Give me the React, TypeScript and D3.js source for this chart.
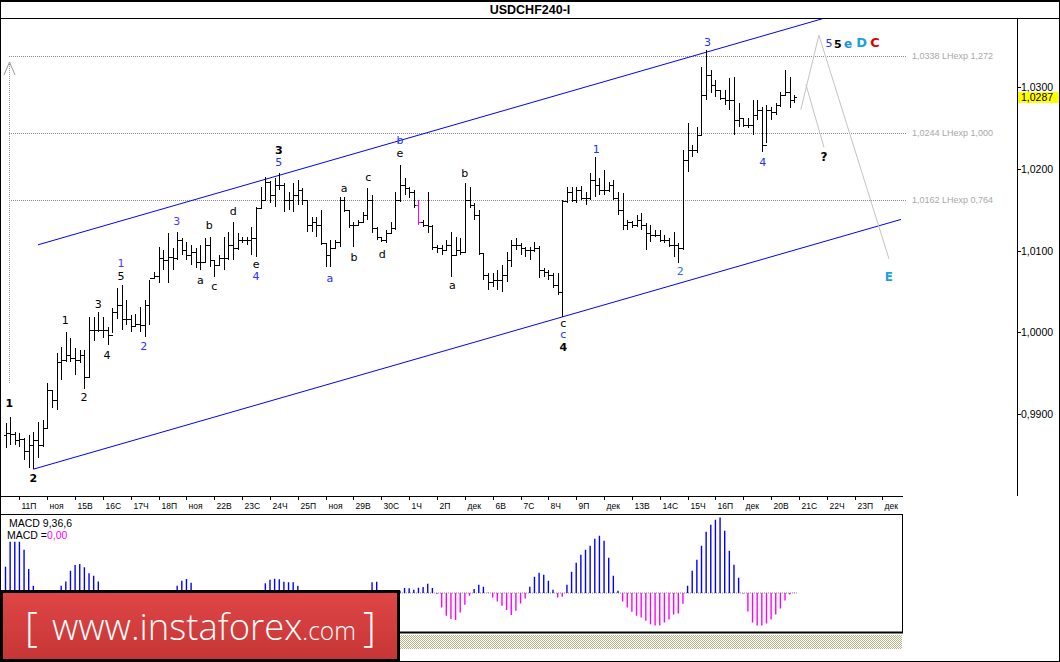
import React, { useEffect } from 'react';
import * as d3 from 'd3';

// ---------- DATA ----------
const high = [
  0.9889, 0.9897, 0.9879, 0.9877, 0.9871, 0.9875, 0.9879, 0.9891, 0.9893, 0.9938,
  0.9930, 0.9975, 0.9982, 1.0001, 0.9993, 0.9981, 0.9979, 0.9979, 1.0019, 1.0019,
  1.0025, 1.0019, 1.0007, 1.0030, 1.0054, 1.0058, 1.0040, 1.0021, 1.0023, 1.0031,
  1.0040, 1.0064, 1.0074, 1.0104, 1.0101, 1.0121, 1.0103, 1.0123, 1.0115, 1.0110,
  1.0107, 1.0103, 1.0107, 1.0115, 1.0117, 1.0088, 1.0095, 1.0117, 1.0123, 1.0135,
  1.0121, 1.0117, 1.0117, 1.0129, 1.0153, 1.0178, 1.0190, 1.0185, 1.0189, 1.0195,
  1.0182, 1.0171, 1.0182, 1.0186, 1.0176, 1.0162, 1.0141, 1.0141, 1.0150, 1.0109,
  1.0113, 1.0113, 1.0165, 1.0165, 1.0150, 1.0135, 1.0137, 1.0147, 1.0176, 1.0168,
  1.0129, 1.0117, 1.0125, 1.0135, 1.0171, 1.0204, 1.0189, 1.0178, 1.0174, 1.0162,
  1.0137, 1.0171, 1.0131, 1.0107, 1.0107, 1.0113, 1.0123, 1.0117, 1.0115, 1.0182,
  1.0178, 1.0158, 1.0150, 1.0097, 1.0073, 1.0073, 1.0076, 1.0082, 1.0098, 1.0113,
  1.0115, 1.0109, 1.0104, 1.0104, 1.0110, 1.0105, 1.0079, 1.0076, 1.0073, 1.0073,
  1.0162, 1.0178, 1.0178, 1.0178, 1.0179, 1.0171, 1.0195, 1.0214, 1.0189, 1.0198,
  1.0184, 1.0186, 1.0171, 1.0170, 1.0137, 1.0136, 1.0143, 1.0146, 1.0134, 1.0131,
  1.0125, 1.0125, 1.0119, 1.0115, 1.0123, 1.0109, 1.0223, 1.0256, 1.0229, 1.0251,
  1.0324, 1.0345, 1.0321, 1.0308, 1.0296, 1.0296, 1.0311, 1.0312, 1.0280, 1.0262,
  1.0262, 1.0284, 1.0284, 1.0275, 1.0278, 1.0275, 1.0280, 1.0294, 1.0321, 1.0312,
  1.0290,
];
const low = [
  0.9859, 0.9863, 0.9863, 0.9860, 0.9844, 0.9834, 0.9833, 0.9847, 0.9860, 0.9883,
  0.9908, 0.9905, 0.9942, 0.9964, 0.9964, 0.9948, 0.9963, 0.9931, 0.9944, 0.9989,
  1.0001, 0.9993, 0.9985, 0.9999, 1.0017, 1.0003, 1.0009, 1.0001, 1.0007, 1.0001,
  0.9994, 1.0009, 1.0066, 1.0060, 1.0076, 1.0060, 1.0076, 1.0088, 1.0095, 1.0088,
  1.0082, 1.0079, 1.0076, 1.0085, 1.0080, 1.0068, 1.0082, 1.0076, 1.0088, 1.0088,
  1.0101, 1.0109, 1.0107, 1.0095, 1.0092, 1.0152, 1.0162, 1.0158, 1.0153, 1.0174,
  1.0147, 1.0150, 1.0147, 1.0156, 1.0156, 1.0123, 1.0123, 1.0117, 1.0107, 1.0080,
  1.0080, 1.0103, 1.0104, 1.0147, 1.0128, 1.0104, 1.0131, 1.0135, 1.0137, 1.0121,
  1.0113, 1.0110, 1.0109, 1.0121, 1.0125, 1.0159, 1.0168, 1.0164, 1.0152, 1.0131,
  1.0129, 1.0121, 1.0101, 1.0097, 1.0095, 1.0101, 1.0068, 1.0095, 1.0095, 1.0097,
  1.0152, 1.0137, 1.0095, 1.0064, 1.0052, 1.0055, 1.0052, 1.0049, 1.0062, 1.0080,
  1.0101, 1.0095, 1.0092, 1.0088, 1.0098, 1.0066, 1.0068, 1.0064, 1.0054, 1.0046,
  1.0019, 1.0158, 1.0159, 1.0158, 1.0162, 1.0156, 1.0162, 1.0165, 1.0168, 1.0168,
  1.0171, 1.0162, 1.0143, 1.0125, 1.0125, 1.0128, 1.0129, 1.0125, 1.0101, 1.0110,
  1.0117, 1.0110, 1.0109, 1.0104, 1.0092, 1.0085, 1.0101, 1.0196, 1.0214, 1.0219,
  1.0240, 1.0284, 1.0292, 1.0288, 1.0284, 1.0278, 1.0272, 1.0241, 1.0251, 1.0251,
  1.0250, 1.0241, 1.0260, 1.0220, 1.0231, 1.0260, 1.0265, 1.0275, 1.0290, 1.0274,
  1.0280,
];
const open = [
  0.9875, 0.9877, 0.9876, 0.9869, 0.9870, 0.9855, 0.9863, 0.9869, 0.9863, 0.9883,
  0.9930, 0.9918, 0.9964, 0.9966, 0.9973, 0.9969, 0.9966, 0.9973, 0.9946, 1.0003,
  1.0003, 1.0003, 1.0003, 0.9997, 1.0025, 1.0033, 1.0017, 1.0017, 1.0008, 1.0010,
  1.0009, 1.0034, 1.0066, 1.0069, 1.0091, 1.0088, 1.0092, 1.0091, 1.0113, 1.0101,
  1.0095, 1.0098, 1.0086, 1.0086, 1.0107, 1.0088, 1.0082, 1.0091, 1.0091, 1.0107,
  1.0103, 1.0113, 1.0113, 1.0113, 1.0115, 1.0152, 1.0162, 1.0184, 1.0168, 1.0180,
  1.0180, 1.0162, 1.0162, 1.0168, 1.0174, 1.0162, 1.0131, 1.0135, 1.0131, 1.0109,
  1.0095, 1.0103, 1.0110, 1.0162, 1.0150, 1.0131, 1.0131, 1.0135, 1.0143, 1.0162,
  1.0128, 1.0116, 1.0113, 1.0122, 1.0128, 1.0162, 1.0180, 1.0176, 1.0171, 1.0156,
  1.0135, 1.0131, 1.0130, 1.0104, 1.0103, 1.0101, 1.0107, 1.0095, 1.0101, 1.0098,
  1.0162, 1.0156, 1.0143, 1.0097, 1.0070, 1.0062, 1.0064, 1.0064, 1.0070, 1.0088,
  1.0107, 1.0107, 1.0103, 1.0101, 1.0101, 1.0103, 1.0076, 1.0074, 1.0070, 1.0058,
  1.0049, 1.0160, 1.0171, 1.0162, 1.0174, 1.0164, 1.0164, 1.0186, 1.0180, 1.0174,
  1.0174, 1.0180, 1.0164, 1.0150, 1.0131, 1.0135, 1.0131, 1.0137, 1.0131, 1.0121,
  1.0119, 1.0119, 1.0113, 1.0113, 1.0107, 1.0107, 1.0103, 1.0211, 1.0223, 1.0223,
  1.0241, 1.0290, 1.0314, 1.0302, 1.0296, 1.0286, 1.0284, 1.0284, 1.0260, 1.0262,
  1.0253, 1.0253, 1.0265, 1.0272, 1.0229, 1.0272, 1.0269, 1.0278, 1.0290, 1.0294,
  1.0284,
];
const close = [
  0.9877, 0.9876, 0.9869, 0.9870, 0.9855, 0.9863, 0.9869, 0.9863, 0.9883, 0.9930,
  0.9918, 0.9964, 0.9966, 0.9973, 0.9969, 0.9966, 0.9973, 0.9946, 1.0003, 1.0003,
  1.0003, 1.0003, 0.9997, 1.0025, 1.0033, 1.0017, 1.0017, 1.0008, 1.0010, 1.0009,
  1.0034, 1.0066, 1.0069, 1.0091, 1.0088, 1.0092, 1.0091, 1.0113, 1.0101, 1.0095,
  1.0098, 1.0086, 1.0086, 1.0107, 1.0088, 1.0082, 1.0091, 1.0091, 1.0107, 1.0103,
  1.0113, 1.0113, 1.0113, 1.0115, 1.0152, 1.0162, 1.0184, 1.0168, 1.0180, 1.0180,
  1.0162, 1.0162, 1.0168, 1.0174, 1.0162, 1.0131, 1.0135, 1.0131, 1.0109, 1.0095,
  1.0103, 1.0110, 1.0162, 1.0150, 1.0131, 1.0131, 1.0135, 1.0143, 1.0162, 1.0128,
  1.0116, 1.0113, 1.0122, 1.0128, 1.0162, 1.0180, 1.0176, 1.0171, 1.0156, 1.0135,
  1.0131, 1.0130, 1.0104, 1.0103, 1.0101, 1.0107, 1.0095, 1.0101, 1.0098, 1.0162,
  1.0156, 1.0143, 1.0097, 1.0070, 1.0062, 1.0064, 1.0064, 1.0070, 1.0088, 1.0107,
  1.0107, 1.0103, 1.0101, 1.0101, 1.0103, 1.0076, 1.0074, 1.0070, 1.0058, 1.0049,
  1.0160, 1.0171, 1.0162, 1.0174, 1.0164, 1.0164, 1.0186, 1.0180, 1.0174, 1.0174,
  1.0180, 1.0164, 1.0150, 1.0131, 1.0135, 1.0131, 1.0137, 1.0131, 1.0121, 1.0119,
  1.0119, 1.0113, 1.0113, 1.0107, 1.0107, 1.0103, 1.0211, 1.0223, 1.0223, 1.0241,
  1.0290, 1.0314, 1.0302, 1.0296, 1.0286, 1.0284, 1.0284, 1.0260, 1.0262, 1.0253,
  1.0253, 1.0265, 1.0272, 1.0229, 1.0272, 1.0269, 1.0278, 1.0290, 1.0294, 1.0284,
  1.0287,
];
const highlightedBars = [89];

const macdHist = [
  0.00105, 0.00205, 0.00205, 0.00205, 0.00173, 0.00096, 0.00029, -0.0002, -0.0004, -0.0003,
  -0.0002, 0.00002, 0.00029, 0.00046, 0.00089, 0.00112, 0.00116, 0.00103, 0.00079, 0.00069,
  0.00046, -0.0001, -0.0003, -0.0004, -0.0003, -0.0004, -0.0006, -0.0008, -0.0009, -0.0009,
  -0.0008, -0.0005, -0.0003, -0.0002, -0.0002, -0.0001, 0.00003, 0.00029, 0.00049, 0.00056,
  0.00041, -0.0001, -0.0003, -0.0003, -0.0004, -0.0006, -0.0006, -0.0006, -0.0005, -0.0005,
  -0.0004, -0.0004, -0.0004, -0.0004, -0.0002, -0.00005, 0.00039, 0.00053, 0.00057, 0.00055,
  0.00045, 0.00043, 0.00043, 0.00029, 0.00005, -0.0002, -0.0004, -0.0005, -0.0007, -0.0009,
  -0.001, -0.001, -0.0008, -0.0007, -0.0007, -0.0006, -0.0005, -0.0004, -0.0002, 0.00043,
  0.00045, 0.00012, -0.0001, -0.0002, -0.0001, 0.00009, 0.0002, 0.00019, 0.00013, 0.00021,
  0.00024, 0.00037, 0.0002, -0.00004, -0.00058, -0.00091, -0.00104, -0.00108, -0.00078, -0.00047,
  -0.00011, 0.00016, 0.00033, 0.00025, 0.00001, -0.00018, -0.00034, -0.00051, -0.00068, -0.00088,
  -0.00071, -0.00042, -0.00022, 0.00025, 0.00065, 0.00081, 0.00073, 0.00049, 0.00013, -0.00018,
  -0.00015, 0.00033, 0.00085, 0.00121, 0.00153, 0.00173, 0.00189, 0.00217, 0.00229, 0.00209,
  0.00141, 0.00069, 0.00009, -0.00034, -0.00058, -0.00075, -0.00091, -0.00098, -0.00111, -0.00125,
  -0.0013, -0.0013, -0.00118, -0.00106, -0.00086, -0.00082, -0.00043, 0.00029, 0.00089, 0.00133,
  0.00189, 0.00245, 0.00273, 0.00293, 0.00302, 0.00249, 0.00169, 0.00113, 0.00061, -0.00002,
  -0.00074, -0.00118, -0.0013, -0.0013, -0.00122, -0.00106, -0.00086, -0.00062, -0.0003, -0.00006,
  0.00001,
];

const dayLabels = [
  '11П', 'ноя', '15В', '16С', '17Ч', '18П', 'ноя', '22В', '23С', '24Ч', '25П', 'ноя',
  '29В', '30С', '1Ч', '2П', 'дек', '6В', '7С', '8Ч', '9П', 'дек', '13В', '14С',
  '15Ч', '16П', 'дек', '20В', '21С', '22Ч', '23П', 'дек',
];
const priceTicks = [0.99, 1.0, 1.01, 1.02, 1.03];
const lastPrice = 1.0287;
const fibLevels = [1.0338, 1.0244, 1.0162];
const fibRatios = ['1,272', '1,000', '0,764'];

const channelUpper = [[7, 1.0107], [176, 1.0383]];
const channelLower = [[6, 0.9833], [193, 1.0138]];
const projectionA = [[171.4, 1.0272], [175.3, 1.0363], [190.4, 1.009]];
const projectionB = [[172.5, 1.0303], [176.4, 1.0226]];

type WL = { i: number; v: number; t: string; c: string; b?: boolean; s?: number };
const BLUE = '#2233ff';
const waveLabels: WL[] = [
  { i: 0.8, v: 0.9913, t: '1', c: '#000', b: true },
  { i: 6.0, v: 0.9822, t: '2', c: '#000', b: true },
  { i: 12.9, v: 1.0015, t: '1', c: '#000' },
  { i: 16.9, v: 0.9921, t: '2', c: '#000' },
  { i: 20.0, v: 1.0034, t: '3', c: '#000' },
  { i: 21.9, v: 0.9972, t: '4', c: '#000' },
  { i: 24.9, v: 1.0084, t: '1', c: '#5a33ff' },
  { i: 24.9, v: 1.0068, t: '5', c: '#000' },
  { i: 29.8, v: 0.9983, t: '2', c: BLUE },
  { i: 36.9, v: 1.0135, t: '3', c: '#5a33ff' },
  { i: 42.0, v: 1.0063, t: 'a', c: '#000' },
  { i: 43.9, v: 1.013, t: 'b', c: '#000' },
  { i: 45.0, v: 1.0056, t: 'c', c: '#000' },
  { i: 49.1, v: 1.0148, t: 'd', c: '#000' },
  { i: 54.0, v: 1.0083, t: 'e', c: '#000' },
  { i: 54.0, v: 1.0068, t: '4', c: BLUE },
  { i: 58.9, v: 1.0222, t: '3', c: '#000', b: true },
  { i: 58.9, v: 1.0208, t: '5', c: BLUE },
  { i: 73.0, v: 1.0176, t: 'a', c: '#000' },
  { i: 69.9, v: 1.0066, t: 'a', c: BLUE },
  { i: 75.1, v: 1.0091, t: 'b', c: '#000' },
  { i: 78.2, v: 1.0189, t: 'c', c: '#000' },
  { i: 81.2, v: 1.0095, t: 'd', c: '#000' },
  { i: 85.0, v: 1.0234, t: 'b', c: BLUE },
  { i: 85.0, v: 1.0218, t: 'e', c: '#000' },
  { i: 99.0, v: 1.0194, t: 'b', c: '#000' },
  { i: 96.3, v: 1.0057, t: 'a', c: '#000' },
  { i: 120.2, v: 1.0011, t: 'c', c: '#000' },
  { i: 120.2, v: 0.9997, t: 'c', c: BLUE },
  { i: 120.2, v: 0.9982, t: '4', c: '#000', b: true },
  { i: 127.3, v: 1.0223, t: '1', c: BLUE },
  { i: 145.4, v: 1.0074, t: '2', c: '#2a6cff' },
  { i: 151.3, v: 1.0354, t: '3', c: BLUE },
  { i: 163.2, v: 1.0207, t: '4', c: BLUE },
  { i: 176.4, v: 1.0214, t: '?', c: '#000', b: true, s: 12 },
  { i: 177.5, v: 1.0353, t: '5', c: BLUE },
  { i: 179.4, v: 1.0352, t: '5', c: '#000', b: true },
  { i: 181.6, v: 1.0352, t: 'e', c: '#1a93d6', b: true, s: 12 },
  { i: 184.5, v: 1.0354, t: 'D', c: '#1ba1e2', b: true, s: 13 },
  { i: 187.4, v: 1.0354, t: 'C', c: '#dd0000', b: true, s: 13 },
  { i: 190.4, v: 1.0068, t: 'E', c: '#1ba1e2', b: true, s: 12 },
];

// ---------- COMPONENT ----------
export default function App() {
  useEffect(() => {
    document.body.style.margin = '0';
  }, []);

  const W = 1060;
  const H = 662;
  const plotRight = 1017;
  const axisY = 496;
  const stripRight = 903;

  const x = d3.scaleLinear().domain([0, 170]).range([5.5, 5.5 + 4.64 * 170]);
  const y = d3.scaleLinear().domain([0.98, 1.0384]).range([496.2, 18]);
  const m = d3.scaleLinear().domain([-0.0016, 0.00316]).range([633, 514]);
  const fmt = (v: number) => d3.format('.4f')(v).replace('.', ',');
  const line = d3
    .line<number[]>()
    .x((d) => x(d[0]))
    .y((d) => y(d[1]));

  const font = 'Liberation Sans, Arial, sans-serif';
  const px = (i: number) => Math.round(x(i)) + 0.5;
  const logoFont = 'Open Sans, Liberation Sans, sans-serif';

  return (
    <svg
      width={W}
      height={H}
      style={{ position: 'absolute', left: 0, top: 0, background: '#fff', display: 'block' }}
      fontFamily={font}
    >
      <defs>
        <pattern id="hatch" width="2" height="2" patternUnits="userSpaceOnUse">
          <rect width="2" height="2" fill="#ffffff" />
          <rect width="1" height="1" fill="#b2b286" />
          <rect x="1" y="1" width="1" height="1" fill="#b2b286" />
        </pattern>
        <linearGradient id="logoGrad" x1="0" y1="0" x2="0" y2="1">
          <stop offset="0" stopColor="#e04646" />
          <stop offset="1" stopColor="#c63535" />
        </linearGradient>
      </defs>
      <rect width={W} height={H} fill="#fff" />

      {/* title */}
      <text x={530} y={13.5} textAnchor="middle" fontSize={12.5} fontWeight="bold" fill="#000">
        USDCHF240-I
      </text>
      <line x1={0} x2={W} y1={18.5} y2={18.5} stroke="#000" />

      {/* right price axis */}
      <line x1={plotRight + 0.5} x2={plotRight + 0.5} y1={18} y2={axisY} stroke="#000" />
      {priceTicks.map((v) => (
        <g key={v}>
          <line x1={plotRight} x2={plotRight + 4} y1={Math.round(y(v)) + 0.5} y2={Math.round(y(v)) + 0.5} stroke="#000" />
          <text x={plotRight + 4} y={y(v) + 4} fontSize={10.5} fill="#000">
            {fmt(v)}
          </text>
        </g>
      ))}
      <rect x={plotRight + 1} y={y(lastPrice) - 5.5} width={W - plotRight - 1} height={11} fill="#ffff00" />
      <text x={plotRight + 4} y={y(lastPrice) + 4} fontSize={10.5} fill="#000">
        {fmt(lastPrice)}
      </text>

      {/* fib levels */}
      {fibLevels.map((v, k) => (
        <g key={v}>
          <line
            x1={9}
            x2={907}
            y1={Math.round(y(v)) + 0.5}
            y2={Math.round(y(v)) + 0.5}
            stroke="#8a8a8a"
            strokeDasharray="1 1"
          />
          <text x={912} y={y(v) + 3.5} fontSize={9} fill="#a8a8a8">
            {`${fmt(v)} LHexp ${fibRatios[k]}`}
          </text>
        </g>
      ))}

      {/* vertical arrow */}
      <line x1={9.5} x2={9.5} y1={62} y2={383} stroke="#999" strokeDasharray="1 1" />
      <polyline points="4,75 9.5,62 15,75" fill="none" stroke="#999" />

      {/* channel */}
      <path d={line(channelUpper) || ''} stroke="#0000ff" fill="none" />
      <path d={line(channelLower) || ''} stroke="#0000ff" fill="none" />

      {/* projections */}
      <path d={line(projectionA) || ''} stroke="#c4c4c4" fill="none" />
      <path d={line(projectionB) || ''} stroke="#c4c4c4" fill="none" />

      {/* OHLC bars */}
      <g shapeRendering="crispEdges">
        {high.map((h, i) => {
          const cx = px(i);
          const col = highlightedBars.includes(i) ? '#ff00ff' : '#000';
          return (
            <g key={i} stroke={col}>
              <line x1={cx} x2={cx} y1={y(h)} y2={y(low[i])} />
              <line x1={cx - 2.5} x2={cx} y1={Math.round(y(open[i])) + 0.5} y2={Math.round(y(open[i])) + 0.5} />
              <line x1={cx} x2={cx + 2.5} y1={Math.round(y(close[i])) + 0.5} y2={Math.round(y(close[i])) + 0.5} />
            </g>
          );
        })}
      </g>

      {/* wave labels */}
      {waveLabels.map((l, k) => (
        <text
          key={k}
          x={x(l.i)}
          y={y(l.v)}
          textAnchor="middle"
          dominantBaseline="central"
          fontSize={l.s || 11}
          fontWeight={l.b ? 'bold' : 'normal'}
          fill={l.c}
          fontFamily="DejaVu Sans, Verdana, sans-serif"
        >
          {l.t}
        </text>
      ))}

      {/* time axis strip */}
      <line x1={0} x2={stripRight} y1={axisY + 0.5} y2={axisY + 0.5} stroke="#000" />
      {dayLabels.map((t, k) => {
        const tx = px(3 + 6 * k);
        return (
          <g key={k}>
            <line x1={tx} x2={tx} y1={axisY} y2={axisY + 4} stroke="#000" />
            <text x={tx + 2} y={axisY + 12.5} fontSize={8.5} fill="#000">
              {t}
            </text>
          </g>
        );
      })}

      {/* MACD panel */}
      <rect x={0.5} y={514.5} width={stripRight - 1} height={118} fill="#fff" stroke="#000" />
      <line x1={0} x2={stripRight} y1={632.5} y2={632.5} stroke="#000" strokeWidth={2} />
      <rect x={0} y={635} width={stripRight - 1} height={14} fill="url(#hatch)" />
      <line x1={0} x2={x(170) + 3} y1={m(0)} y2={m(0)} stroke="#8a8a8a" strokeDasharray="1 1" />
      {macdHist.map((v, i) => (
        <line
          key={i}
          x1={x(i)}
          x2={x(i)}
          y1={m(0)}
          y2={m(v)}
          stroke={v >= 0 ? '#0000ff' : '#ff00ff'}
          strokeWidth={1.4}
        />
      ))}
      <text x={9} y={526.5} fontSize={10.5} fill="#000">
        MACD 9,36,6
      </text>
      <text x={7} y={538.5} fontSize={10.5} fill="#000">
        MACD =<tspan fill="#ff00ff">0,00</tspan>
      </text>

      {/* outer frame */}
      <rect x={0.5} y={0.5} width={W - 1} height={H - 1} fill="none" stroke="#000" />
      <line x1={0} x2={W} y1={1} y2={1} stroke="#000" strokeWidth={2} />

      {/* logo */}
      <rect x={1.5} y={591.5} width={397} height={69} fill="url(#logoGrad)" stroke="#000" strokeWidth={3} />
      <text x={25} y={641} fontSize={40} fill="#fff" fontWeight={300} fontFamily={logoFont}>
        [
      </text>
      <text
        x={52}
        y={640}
        fontSize={37}
        fill="#fff"
        fontWeight={300}
        fontFamily={logoFont}
        textLength={304}
        lengthAdjust="spacingAndGlyphs"
      >
        www.instaforex<tspan fontSize={25}>.com</tspan>
      </text>
      <text x={363} y={641} fontSize={40} fill="#fff" fontWeight={300} fontFamily={logoFont}>
        ]
      </text>
    </svg>
  );
}
